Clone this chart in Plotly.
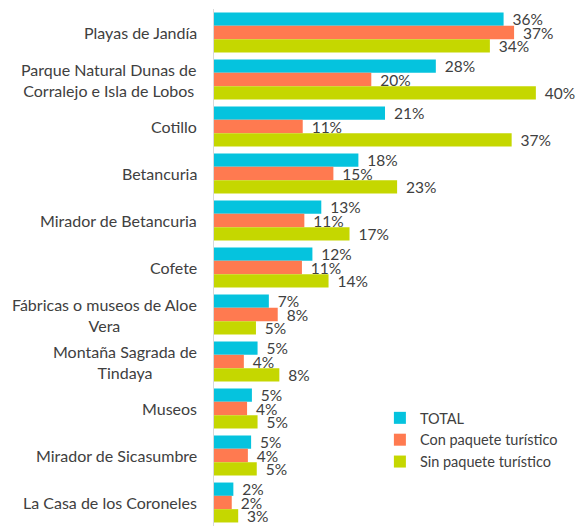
import plotly.graph_objects as go

categories = [
    "Playas de Jandía",
    "Parque Natural Dunas de<br>Corralejo e Isla de Lobos",
    "Cotillo",
    "Betancuria",
    "Mirador de Betancuria",
    "Cofete",
    "Fábricas o museos de Aloe<br>Vera",
    "Montaña Sagrada de<br>Tindaya",
    "Museos",
    "Mirador de Sicasumbre",
    "La Casa de los Coroneles",
]
total = [35.9, 27.5, 21.2, 17.9, 13.3, 12.2, 6.8, 5.4, 4.7, 4.6, 2.4]
con_paquete = [37.2, 19.5, 11.0, 14.8, 11.2, 10.9, 7.9, 3.7, 4.1, 4.2, 2.2]
sin_paquete = [34.2, 39.9, 36.9, 22.7, 16.8, 14.2, 5.2, 8.1, 5.4, 5.3, 3.0]
series_names = ["TOTAL", "Con paquete turístico", "Sin paquete turístico"]
colors = ["#05C3DE", "#FF7A50", "#C5D700"]

FONT = "Lato"
TXT = "#404040"

fig = go.Figure()
for name, vals, col in zip(series_names, [total, con_paquete, sin_paquete], colors):
    fig.add_trace(go.Bar(
        y=categories, x=vals, name=name, orientation="h",
        marker=dict(color=col, line=dict(width=0)),
        text=["\u00a0\u2009%d%%" % round(v) for v in vals],
        textposition="outside", constraintext="none", cliponaxis=False,
        textfont=dict(family=FONT, size=15.5, color=TXT),
        hoverinfo="skip",
    ))

for c in categories:
    fig.add_annotation(
        x=0, xref="paper", xanchor="right", xshift=-15,
        y=c, yref="y", yanchor="middle",
        text=c, showarrow=False, align="center",
        font=dict(family=FONT, size=16, color=TXT),
    )

fig.update_layout(
    width=577, height=526,
    margin=dict(l=214, r=0, t=9, b=0, autoexpand=False),
    barmode="group", bargap=0.15, bargroupgap=0,
    plot_bgcolor="white", paper_bgcolor="white",
    font=dict(family=FONT, color=TXT),
    legend=dict(
        x=0.457, y=0.24, xanchor="left", yanchor="top",
        font=dict(family=FONT, size=14.5, color=TXT),
        bgcolor="rgba(0,0,0,0)", tracegroupgap=0,
    ),
    xaxis=dict(range=[0, 45], visible=False, showgrid=False, zeroline=False),
    yaxis=dict(autorange="reversed", showticklabels=False, ticks="",
               showline=True, linecolor="#D9D9D9", linewidth=1, showgrid=False),
)

fig.write_html(
    "out.html",
    config={"displayModeBar": False, "staticPlot": True},
    post_script="document.body.style.margin='0';document.body.style.overflow='hidden';",
)
